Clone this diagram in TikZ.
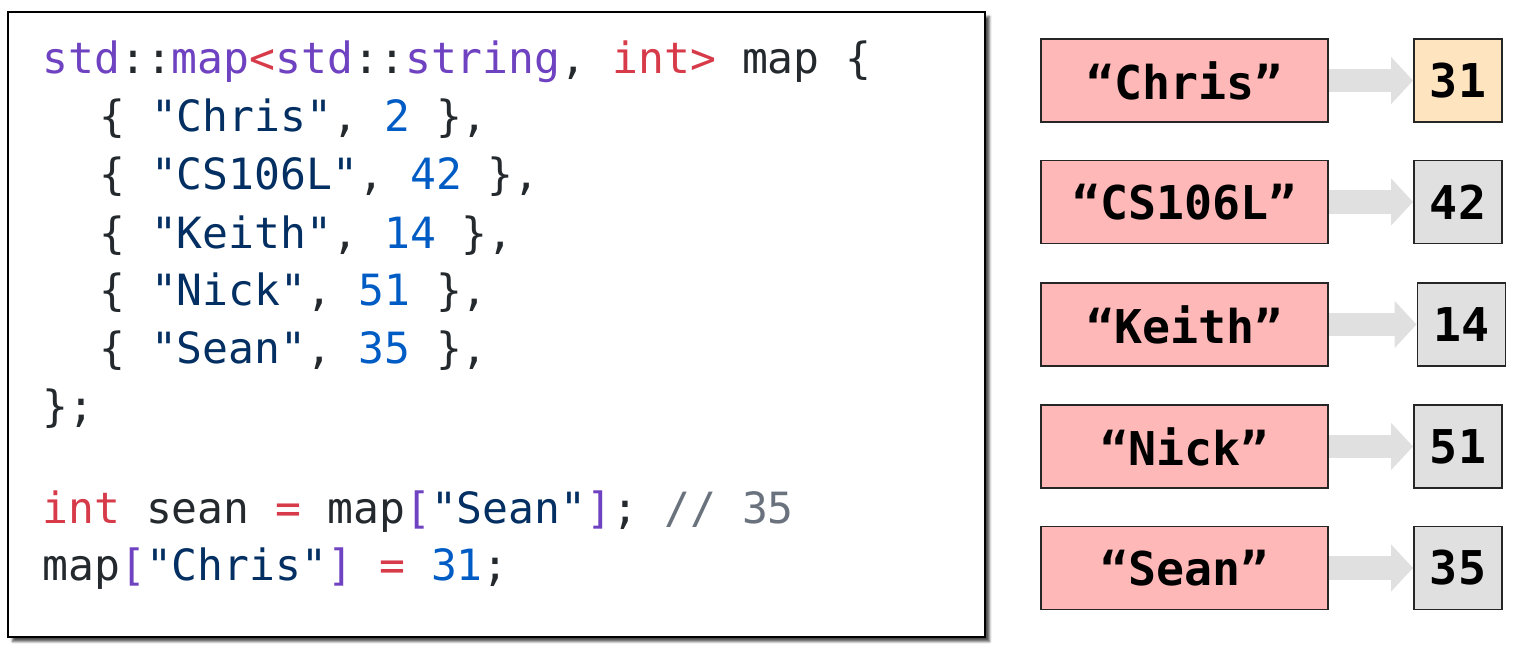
\documentclass[tikz,border=0pt]{standalone}
\usepackage{fontspec}
\setmonofont{DejaVu Sans Mono}
\usepackage{tikz}
\usetikzlibrary{shadows.blur}
\usetikzlibrary{arrows.meta}
\definecolor{keyred}{RGB}{255,184,184}
\definecolor{valorange}{RGB}{255,228,192}
\definecolor{valgray}{RGB}{224,224,224}
\definecolor{arrowgray}{RGB}{224,224,224}
\definecolor{codepurple}{RGB}{111,66,193}
\definecolor{codered}{RGB}{215,58,73}
\definecolor{codeblue}{RGB}{0,92,197}
\definecolor{codenavy}{RGB}{3,47,98}
\definecolor{codegray}{RGB}{106,115,125}
\definecolor{codeblack}{RGB}{36,41,46}
\newcommand{\ctype}[1]{\textcolor{codepurple}{#1}}
\newcommand{\cop}[1]{\textcolor{codered}{#1}}
\newcommand{\cnum}[1]{\textcolor{codeblue}{#1}}
\newcommand{\cstr}[1]{\textcolor{codenavy}{#1}}
\newcommand{\ccmt}[1]{\textcolor{codegray}{#1}}

\begin{document}
\begin{tikzpicture}[x=0.02cm,y=-0.02cm]
\tikzstyle{codebox}=[rectangle,draw,line width=1.4pt,fill=white,minimum width=19.54cm,minimum height=12.5cm,blur shadow={shadow xshift=0.09cm,shadow yshift=-0.09cm,shadow blur steps=4,shadow blur radius=0.05cm,shadow opacity=70}]
\tikzstyle{codeline}=[anchor=base west,inner sep=0,text=codeblack,font=\ttfamily\fontsize{24.5}{30}\selectfont]
\tikzstyle{keybox}=[rectangle,draw=black!85,line width=1.1pt,fill=keyred,minimum width=5.74cm,minimum height=1.66cm,inner sep=0,font=\ttfamily\bfseries\fontsize{26.5}{30}\selectfont]
\tikzstyle{valbox}=[rectangle,draw=black!85,line width=1.1pt,fill=valgray,minimum width=1.76cm,minimum height=1.66cm,inner sep=0,font=\ttfamily\bfseries\fontsize{26.5}{30}\selectfont]
\tikzstyle{maparrow}=[draw=arrowgray,line width=0.48cm,-{Triangle[length=0.44cm,width=0.92cm,fill=arrowgray]}]

\useasboundingbox (0,0) rectangle (1519,652);

\node [codebox] (code) at (496.5,324.5) {};

\node [codeline] (l1) at (42,74) {\ctype{std}::\ctype{map}\cop{<}\ctype{std}::\ctype{string}, \cop{int>} map \{};
\node [codeline] (l2) at (47,132) {~~\{ \cstr{"Chris"}, \cnum{2} \},};
\node [codeline] (l3) at (47,190) {~~\{ \cstr{"CS106L"}, \cnum{42} \},};
\node [codeline] (l4) at (47,248) {~~\{ \cstr{"Keith"}, \cnum{14} \},};
\node [codeline] (l5) at (47,305) {~~\{ \cstr{"Nick"}, \cnum{51} \},};
\node [codeline] (l6) at (47,363) {~~\{ \cstr{"Sean"}, \cnum{35} \},};
\node [codeline] (l7) at (42,421) {\};};
\node [codeline] (l8) at (42,523) {\cop{int} sean \cop{=} map\ctype{[}\cstr{"Sean"}\ctype{]}; \ccmt{// 35}};
\node [codeline] (l9) at (42,580) {map\ctype{[}\cstr{"Chris"}\ctype{]} \cop{=} \cnum{31};};

\node [keybox] (k1) at (1184.5,80.5) {“Chris”};
\node [keybox] (k2) at (1184.5,202) {“CS106L”};
\node [keybox] (k3) at (1184.5,324.5) {“Keith”};
\node [keybox] (k4) at (1184.5,446.5) {“Nick”};
\node [keybox] (k5) at (1184.5,568) {“Sean”};

\node [valbox, fill=valorange] (v1) at (1458,80.5) {31};
\node [valbox] (v2) at (1458,202) {42};
\node [valbox] (v3) at (1461.5,324.5) {14};
\node [valbox] (v4) at (1458,446.5) {51};
\node [valbox] (v5) at (1458,568) {35};

\draw[maparrow] (k1) -- (v1);
\draw[maparrow] (k2) -- (v2);
\draw[maparrow] (k3) -- (v3);
\draw[maparrow] (k4) -- (v4);
\draw[maparrow] (k5) -- (v5);

\end{tikzpicture}
\end{document}
